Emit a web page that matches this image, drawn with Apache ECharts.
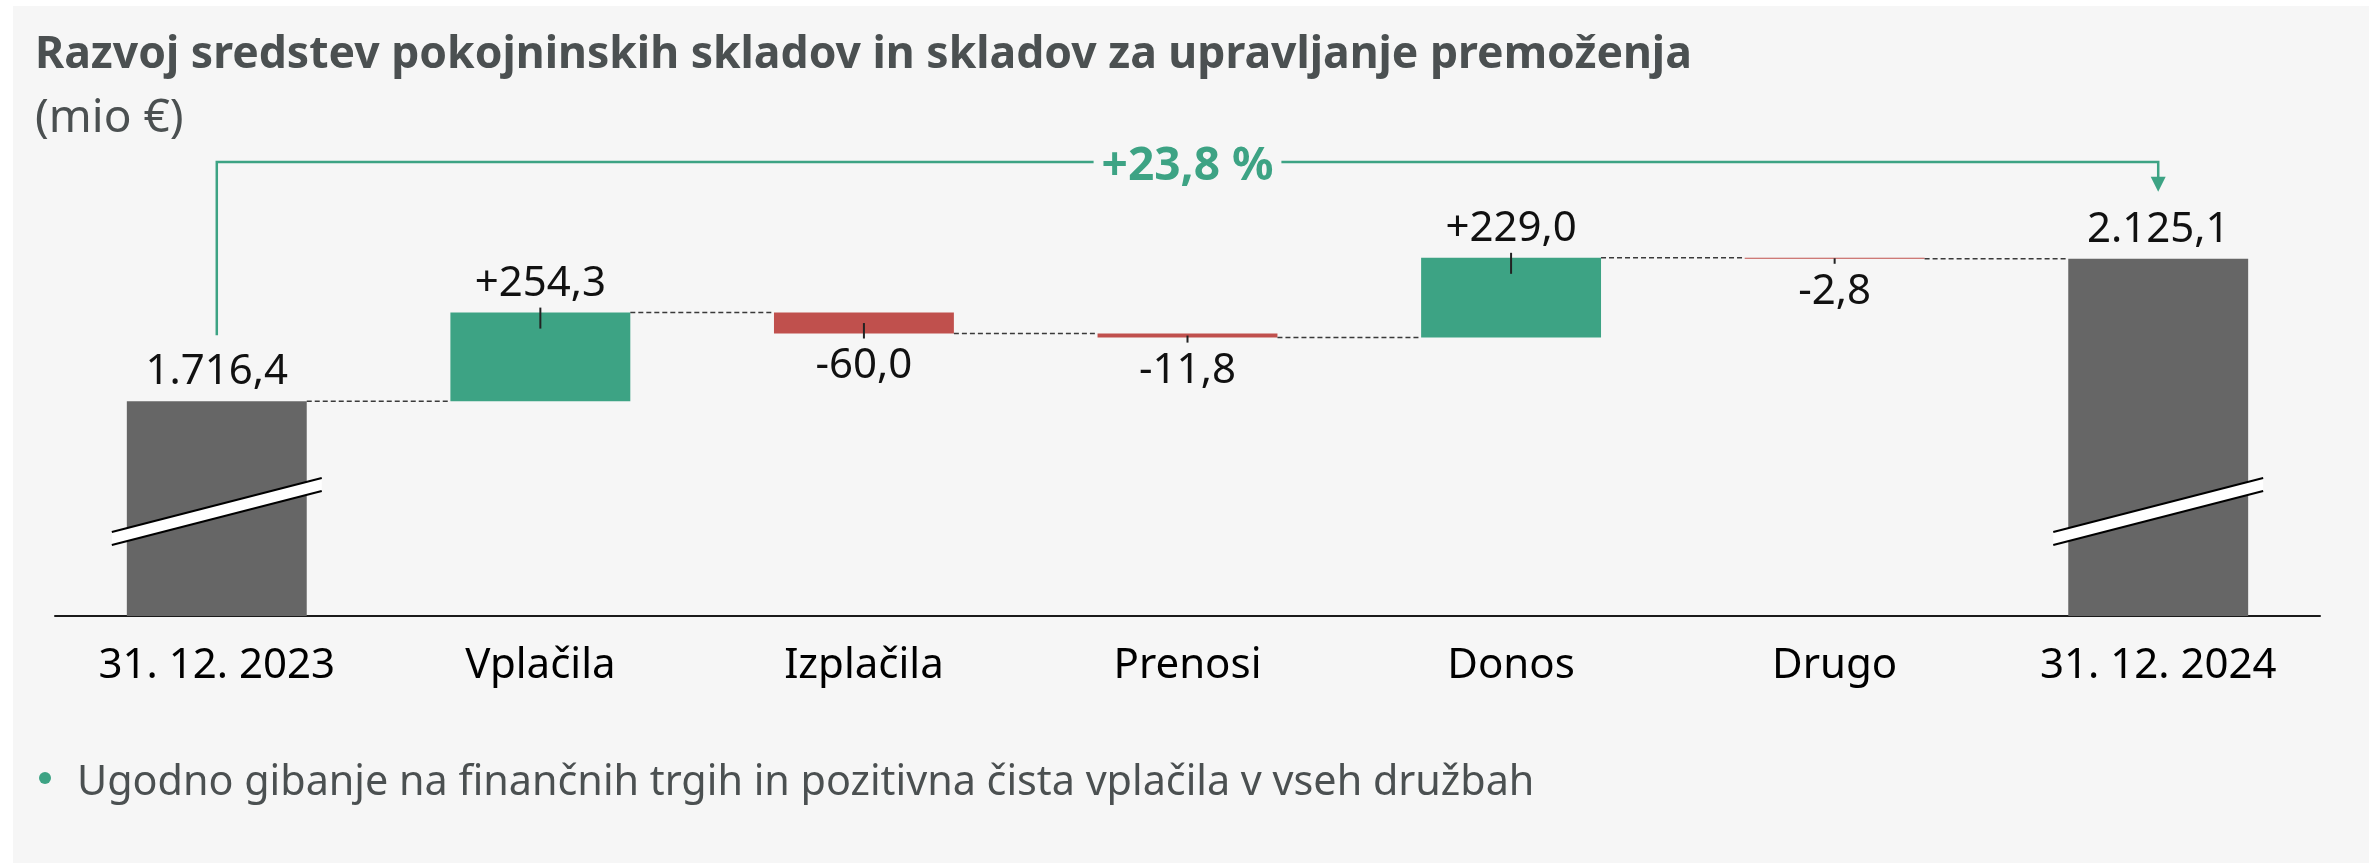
<!DOCTYPE html>
<html>
<head>
<meta charset="utf-8">
<script src="https://cdn.jsdelivr.net/npm/echarts@6/dist/echarts.min.js"></script>
<style>
  html, body { margin: 0; padding: 0; background: #ffffff; }
  #wrap { position: relative; width: 2369px; height: 863px; }
  #panel { position: absolute; left: 13px; top: 6px; right: 0; bottom: 0; background: #f6f6f6; }
  #chart { position: absolute; left: 0; top: 0; width: 2369px; height: 863px; }
</style>
</head>
<body>
<div id="wrap"><div id="panel"></div><div id="chart"></div></div>
<script>
// ---- data (mio €) ----
const categories = ['31. 12. 2023', 'Vplačila', 'Izplačila', 'Prenosi', 'Donos', 'Drugo', '31. 12. 2024'];
const openingTotal = 1716.4;
const changes = [254.3, -60.0, -11.8, 229.0, -2.8];
const closingTotal = 2125.1;

const titleText = 'Razvoj sredstev pokojninskih skladov in skladov za upravljanje premoženja';
const unitText = '(mio €)';
const noteText = 'Ugodno gibanje na finančnih trgih in pozitivna čista vplačila v vseh družbah';

// ---- look ----
const Y_MIN = 1100, Y_MAX = 2400, BREAK_AT = 1400;
const FONT = "'Noto Sans', sans-serif";
const GREEN = '#3da384', RED = '#c0504d', GREY = '#666666', TEXT = '#4b5051', BG = '#f6f6f6';
const BAR_SHARE = 0.556;

// Slovene number format: 1.716,4 / +254,3 / -60,0
function fmt(v, signed) {
  const parts = Math.abs(v).toFixed(1).split('.');
  const intPart = parts[0].replace(/\B(?=(\d{3})+(?!\d))/g, '.');
  const sign = v < 0 ? '-' : (signed ? '+' : '');
  return sign + intPart + ',' + parts[1];
}

// ---- waterfall layout ----
const last = categories.length - 1;
const base = [0], height = [openingTotal], colors = [GREY], labels = [fmt(openingTotal)], labelPos = ['top'];
const levels = [openingTotal];
const ticks = [];
let level = openingTotal;
changes.forEach((c, i) => {
  const next = level + c;
  const lo = Math.min(level, next);
  base.push(lo);
  height.push(Math.abs(c));
  colors.push(c >= 0 ? GREEN : RED);
  labels.push(fmt(c, true));
  labelPos.push(c >= 0 ? 'top' : 'bottom');
  ticks.push([i + 1, c >= 0 ? next : lo, c >= 0 ? 1 : -1, Math.abs(c)]);
  level = next;
  levels.push(level);
});
base.push(0); height.push(closingTotal); colors.push(GREY); labels.push(fmt(closingTotal)); labelPos.push('top');

const growth = (closingTotal / openingTotal - 1) * 100;
const growthText = (growth >= 0 ? '+' : '') + growth.toFixed(1).replace('.', ',') + ' %';

const chart = echarts.init(document.getElementById('chart'), null, { renderer: 'canvas' });

const option = {
  animation: false,
  backgroundColor: 'transparent',
  grid: { left: 55, right: 49, top: 163, bottom: 247 },
  xAxis: {
    type: 'category',
    data: categories,
    axisLine: { show: true, lineStyle: { color: '#1a1a1a', width: 2 } },
    axisTick: { show: false },
    axisLabel: { color: '#000000', fontSize: 42, fontFamily: FONT, margin: 29, interval: 0 },
    splitLine: { show: false }
  },
  yAxis: {
    type: 'value', min: Y_MIN, max: Y_MAX, show: false,
    splitLine: { show: false }
  },
  graphic: [
    { type: 'text', x: 35, y: 55, style: { text: titleText, fill: TEXT, fontFamily: FONT, fontSize: 44.5, fontWeight: 'bold', verticalAlign: 'middle' } },
    { type: 'text', x: 35, y: 119, style: { text: unitText, fill: TEXT, fontFamily: FONT, fontSize: 46, verticalAlign: 'middle' } },
    { type: 'circle', shape: { cx: 45, cy: 778, r: 6 }, style: { fill: GREEN } },
    { type: 'text', x: 77, y: 783, style: { text: noteText, fill: TEXT, fontFamily: FONT, fontSize: 41.3, verticalAlign: 'middle' } }
  ],
  series: [
    {
      name: 'base', type: 'bar', stack: 'w', barWidth: (BAR_SHARE * 100) + '%',
      itemStyle: { color: 'transparent' }, silent: true, emphasis: { disabled: true },
      data: base
    },
    {
      name: 'value', type: 'bar', stack: 'w', barWidth: (BAR_SHARE * 100) + '%',
      emphasis: { disabled: true },
      label: { show: true, color: '#111111', fontSize: 42, fontFamily: FONT },
      data: height.map((h, i) => ({
        value: h,
        itemStyle: { color: colors[i] },
        label: { position: labelPos[i], distance: labelPos[i] === 'top' ? 8 : 12, formatter: labels[i] }
      }))
    },
    {
      // dashed connectors between consecutive bars
      name: 'connectors', type: 'custom', silent: true, z: 3,
      encode: { x: 0, y: 1 },
      data: levels.map((v, k) => [k, v]),
      renderItem(params, api) {
        const p = api.coord([api.value(0), api.value(1)]);
        const bw = api.size([1, 0])[0];
        const half = bw * BAR_SHARE / 2;
        return {
          type: 'line',
          shape: { x1: p[0] + half, y1: p[1], x2: p[0] + bw - half, y2: p[1] },
          style: { stroke: '#3a3a3a', lineWidth: 1.5, lineDash: [5, 3] }
        };
      }
    },
    {
      // small label ticks on the change bars
      name: 'ticks', type: 'custom', silent: true, z: 4,
      encode: { x: 0, y: 1 },
      data: ticks,
      renderItem(params, api) {
        const p = api.coord([api.value(0), api.value(1)]);
        const dir = api.value(2);
        const hPx = Math.abs(api.size([0, api.value(3)])[1]);
        const inward = Math.min(16, hPx / 2);
        return {
          type: 'line',
          shape: { x1: p[0], y1: p[1] - dir * 5, x2: p[0], y2: p[1] + dir * inward },
          style: { stroke: '#222222', lineWidth: 2 }
        };
      }
    },
    {
      // axis-break marks on the total bars
      name: 'breaks', type: 'custom', silent: true, z: 5,
      encode: { x: 0, y: 1 },
      data: [[0, BREAK_AT], [last, BREAK_AT]],
      renderItem(params, api) {
        const p = api.coord([api.value(0), api.value(1)]);
        const bw = api.size([1, 0])[0];
        const L = bw * BAR_SHARE / 2 + 15;
        const rise = 27;
        const t = 6.5;
        const x1 = p[0] - L, x2 = p[0] + L;
        const yl = p[1] + rise, yr = p[1] - rise;
        return {
          type: 'group',
          children: [
            { type: 'polygon', shape: { points: [[x1, yl - t], [x2, yr - t], [x2, yr + t], [x1, yl + t]] }, style: { fill: '#ffffff' } },
            { type: 'line', shape: { x1: x1, y1: yl - t, x2: x2, y2: yr - t }, style: { stroke: '#000000', lineWidth: 2 } },
            { type: 'line', shape: { x1: x1, y1: yl + t, x2: x2, y2: yr + t }, style: { stroke: '#000000', lineWidth: 2 } }
          ]
        };
      }
    },
    {
      // growth bracket from opening to closing total
      name: 'growth', type: 'custom', silent: true, z: 6,
      encode: { x: 0, y: 1 },
      data: [[0, openingTotal, closingTotal]],
      renderItem(params, api) {
        const a = api.coord([0, api.value(1)]);
        const b = api.coord([last, api.value(2)]);
        const top = api.coord([0, Y_MAX])[1] - 1;
        const ya = a[1] - 66, yb = b[1] - 67;
        const head = 15;
        return {
          type: 'group',
          children: [
            { type: 'polyline', shape: { points: [[a[0], ya], [a[0], top], [b[0], top], [b[0], yb - head + 1]] }, style: { stroke: GREEN, lineWidth: 2.5, fill: null } },
            { type: 'polygon', shape: { points: [[b[0] - 7.5, yb - head], [b[0] + 7.5, yb - head], [b[0], yb]] }, style: { fill: GREEN } },
            { type: 'text', x: (a[0] + b[0]) / 2, y: top + 5, style: { text: growthText, fill: GREEN, fontFamily: FONT, fontSize: 46, fontWeight: 'bold', align: 'center', verticalAlign: 'middle', backgroundColor: BG, padding: [0, 8] } }
          ]
        };
      }
    }
  ]
};

chart.setOption(option);
</script>
</body>
</html>
